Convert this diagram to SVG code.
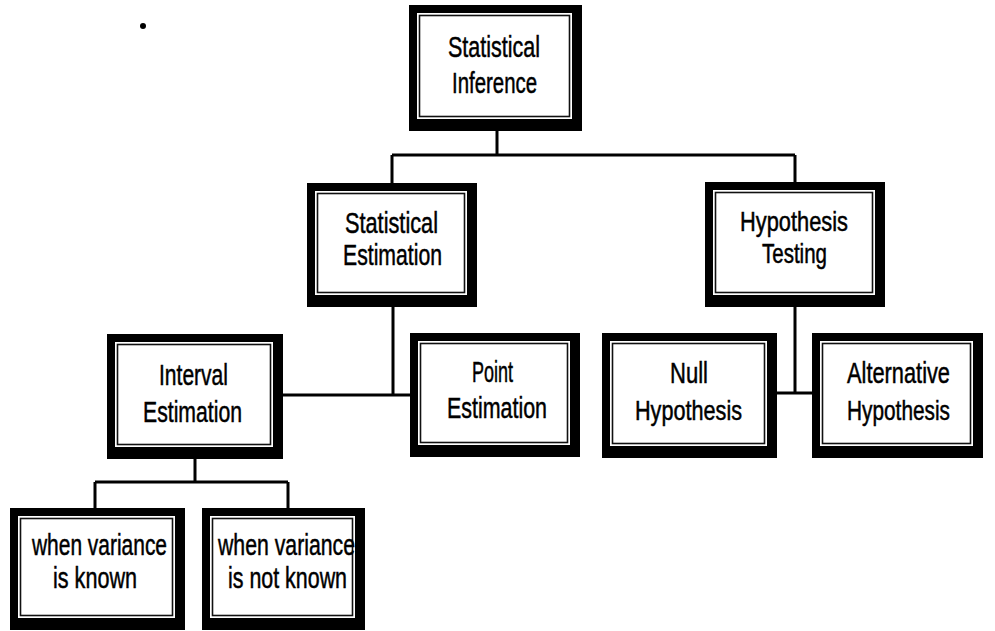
<svg xmlns="http://www.w3.org/2000/svg" width="995" height="631" viewBox="0 0 995 631">
<style>
.frame{fill:#000}
.face{fill:#fff}
.inner{fill:none;stroke:#111;stroke-width:1.6}
.lbl{font-family:"Liberation Sans Narrow","Liberation Sans",Arial,sans-serif;font-size:30px;fill:#000;stroke:#000;stroke-width:0.5;text-anchor:middle}
.sm{font-size:28px}
.wire{fill:none;stroke:#000;stroke-width:3}
</style>
<rect width="995" height="631" fill="#fff"/>
<circle cx="143" cy="26" r="3" fill="#000"/>
<g id="connectors">
<path class="wire" d="M497 131V155M392 155H795M392 155V183M795 155V182"/>
<path class="wire" d="M393 307V395M283 395H410"/>
<path class="wire" d="M795 307V393M777 393H812"/>
<path class="wire" d="M195 459V482M95 482H288M95 482V508M288 482V508"/>
</g>
<g id="statistical-inference">
<rect class="frame" x="409" y="5" width="173" height="126"/>
<rect class="face" x="417" y="13" width="155" height="106"/>
<rect class="inner" x="419.5" y="15.5" width="150" height="101"/>
<text class="lbl" x="494" y="57" textLength="92" lengthAdjust="spacingAndGlyphs">Statistical</text>
<text class="lbl" x="494.5" y="93" textLength="85" lengthAdjust="spacingAndGlyphs">Inference</text>
</g>
<g id="statistical-estimation">
<rect class="frame" x="307" y="183" width="170" height="124"/>
<rect class="face" x="315" y="191" width="152" height="104"/>
<rect class="inner" x="317.5" y="193.5" width="147" height="99"/>
<text class="lbl" x="391.5" y="233" textLength="93" lengthAdjust="spacingAndGlyphs">Statistical</text>
<text class="lbl" x="392.5" y="265" textLength="99" lengthAdjust="spacingAndGlyphs">Estimation</text>
</g>
<g id="hypothesis-testing">
<rect class="frame" x="705" y="182" width="180" height="125"/>
<rect class="face" x="713" y="190" width="162" height="105"/>
<rect class="inner" x="715.5" y="192.5" width="157" height="100"/>
<text class="lbl sm" x="794" y="231" textLength="108" lengthAdjust="spacingAndGlyphs">Hypothesis</text>
<text class="lbl sm" x="794.5" y="263" textLength="65" lengthAdjust="spacingAndGlyphs">Testing</text>
</g>
<g id="interval-estimation">
<rect class="frame" x="107" y="334" width="176" height="125"/>
<rect class="face" x="115" y="342" width="158" height="105"/>
<rect class="inner" x="117.5" y="344.5" width="153" height="100"/>
<text class="lbl" x="193.5" y="385" textLength="69" lengthAdjust="spacingAndGlyphs">Interval</text>
<text class="lbl" x="192.5" y="422" textLength="99" lengthAdjust="spacingAndGlyphs">Estimation</text>
</g>
<g id="point-estimation">
<rect class="frame" x="410" y="333" width="170" height="124"/>
<rect class="face" x="418" y="341" width="152" height="104"/>
<rect class="inner" x="420.5" y="343.5" width="147" height="99"/>
<text class="lbl" x="492.5" y="382" textLength="41" lengthAdjust="spacingAndGlyphs">Point</text>
<text class="lbl" x="497" y="418" textLength="100" lengthAdjust="spacingAndGlyphs">Estimation</text>
</g>
<g id="null-hypothesis">
<rect class="frame" x="602" y="333" width="175" height="125"/>
<rect class="face" x="610" y="341" width="157" height="105"/>
<rect class="inner" x="612.5" y="343.5" width="152" height="100"/>
<text class="lbl" x="689" y="383" textLength="38" lengthAdjust="spacingAndGlyphs">Null</text>
<text class="lbl sm" x="688.5" y="420" textLength="107" lengthAdjust="spacingAndGlyphs">Hypothesis</text>
</g>
<g id="alternative-hypothesis">
<rect class="frame" x="812" y="333" width="171" height="125"/>
<rect class="face" x="820" y="341" width="153" height="105"/>
<rect class="inner" x="822.5" y="343.5" width="148" height="100"/>
<text class="lbl" x="898.5" y="383" textLength="103" lengthAdjust="spacingAndGlyphs">Alternative</text>
<text class="lbl sm" x="898.5" y="420" textLength="103" lengthAdjust="spacingAndGlyphs">Hypothesis</text>
</g>
<g id="variance-known">
<rect class="frame" x="10" y="508" width="175" height="122"/>
<rect class="face" x="18" y="516" width="157" height="102"/>
<rect class="inner" x="20.5" y="518.5" width="152" height="97"/>
<text class="lbl" x="99.5" y="555" textLength="135" lengthAdjust="spacingAndGlyphs">when variance</text>
<text class="lbl" x="95" y="588" textLength="84" lengthAdjust="spacingAndGlyphs">is known</text>
</g>
<g id="variance-not-known">
<rect class="frame" x="202" y="508" width="163" height="122"/>
<rect class="face" x="210" y="516" width="145" height="102"/>
<rect class="inner" x="212.5" y="518.5" width="140" height="97"/>
<text class="lbl" x="286.5" y="555" textLength="137" lengthAdjust="spacingAndGlyphs">when variance</text>
<text class="lbl" x="287.5" y="588" textLength="119" lengthAdjust="spacingAndGlyphs">is not known</text>
</g>
</svg>
